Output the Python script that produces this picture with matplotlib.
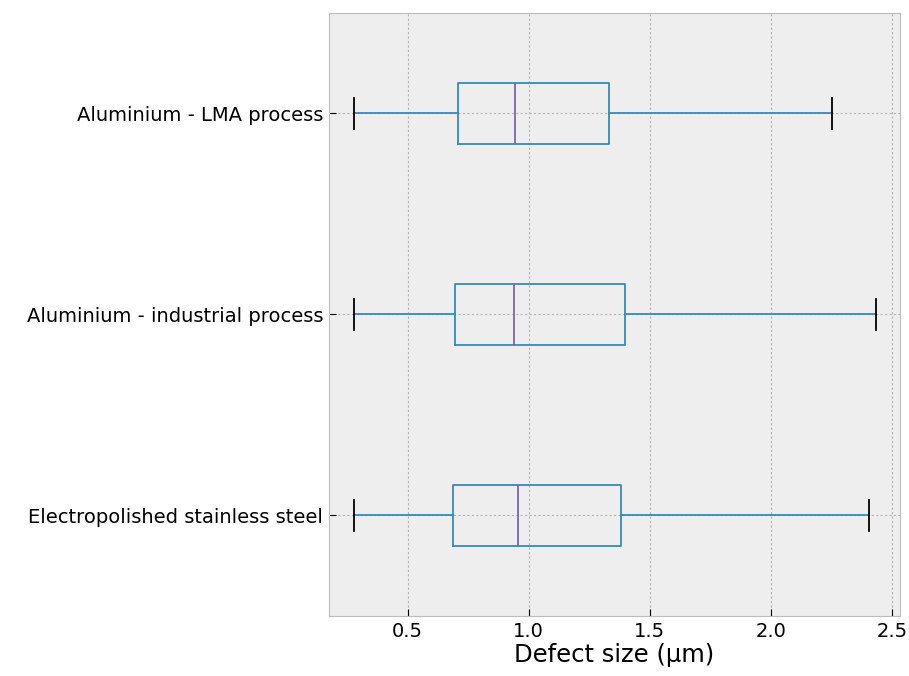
import matplotlib
matplotlib.use("Agg")
import matplotlib.pyplot as plt

plt.style.use("bmh")
plt.rcParams["font.family"] = ["DejaVu Sans"]

categories = ["Electropolished stainless steel", "Aluminium - industrial process", "Aluminium - LMA process"]
whislo = [0.28, 0.28, 0.28]
q1 = [0.687, 0.694, 0.706]
med = [0.957, 0.940, 0.942]
q3 = [1.382, 1.398, 1.332]
whishi = [2.405, 2.434, 2.252]

stats = []
for i, c in enumerate(categories):
    stats.append(dict(label=c, whislo=whislo[i], q1=q1[i], med=med[i], q3=q3[i],
                      whishi=whishi[i], fliers=[]))

fig = plt.figure(figsize=(9.09, 6.76), dpi=100)
ax = fig.add_axes([0.3616, 0.0888, 0.6285, 0.892])
ax.bxp(stats, vert=False, widths=0.3,
       boxprops=dict(color="#348ABD", linewidth=1.3),
       whiskerprops=dict(color="#348ABD", linewidth=1.3),
       capprops=dict(color="black", linewidth=1.3),
       medianprops=dict(color="#7A68A6", linewidth=1.3),
       showfliers=False)
ax.set_xlim(0.1736, 2.534)
ax.set_ylim(0.5, 3.5)
ax.set_xticks([0.5, 1.0, 1.5, 2.0, 2.5])
ax.grid(True, linestyle=(0, (2, 2)), color="#b2b2b2", linewidth=0.8)
ax.set_axisbelow(True)
ax.tick_params(axis="both", direction="in", labelsize=14, colors="black", length=5, pad=4)
ax.set_xlabel("Defect size (µm)", fontsize=17.5, labelpad=2)
fig.savefig("out.png", dpi=100)
